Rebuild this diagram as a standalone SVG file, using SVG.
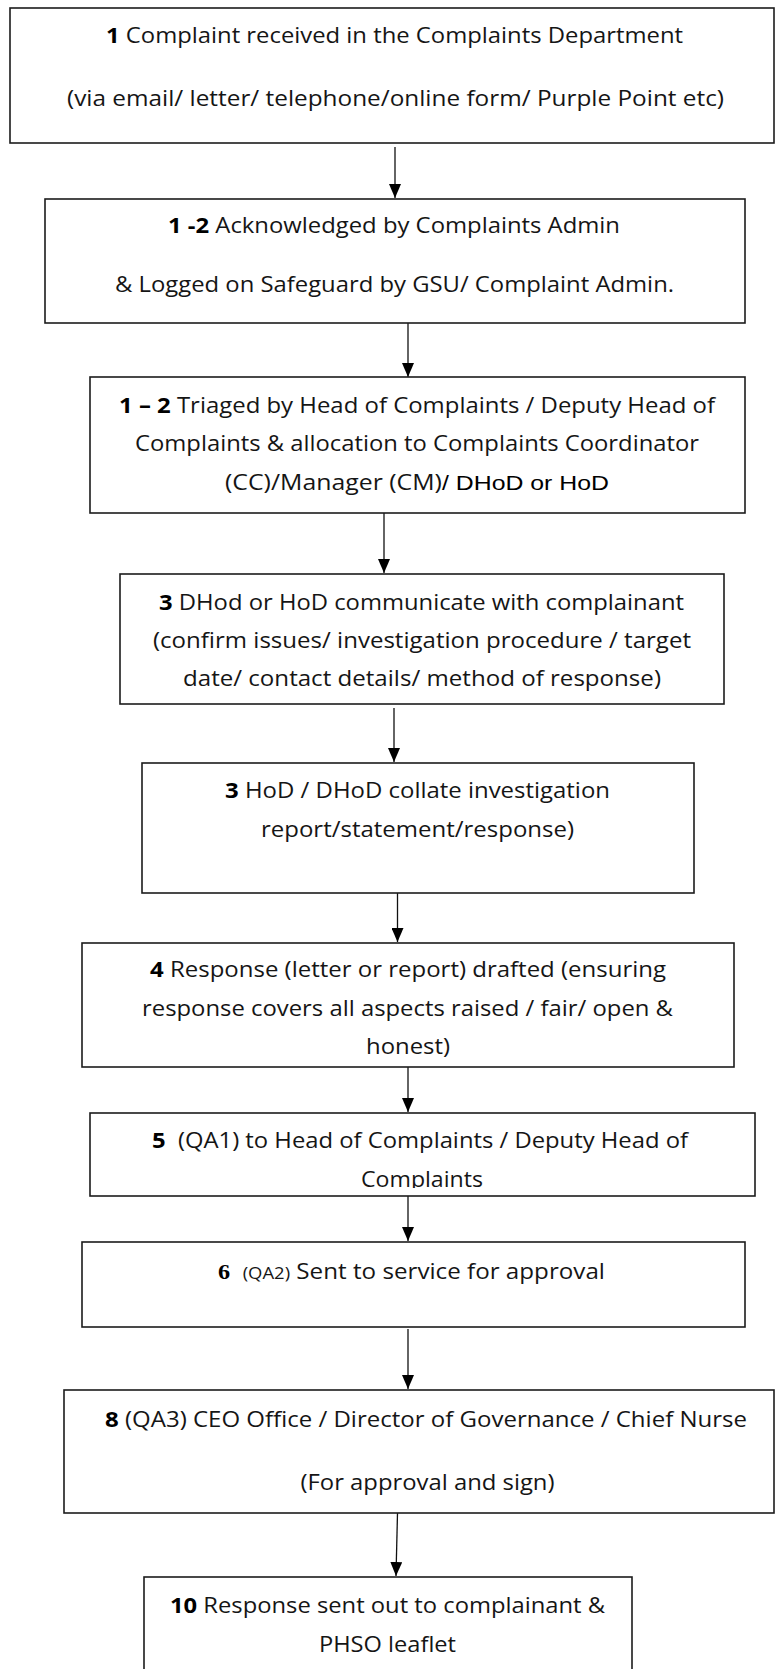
<svg xmlns="http://www.w3.org/2000/svg" width="775" height="1669" viewBox="0 0 775 1669">
<style>
.box{fill:#fff;stroke:#1c1c1c;stroke-width:1.6}
.t{font-family:"Open Sans","Liberation Sans",sans-serif;font-size:21px;fill:#151515;text-anchor:middle}
.b{font-weight:700;fill:#000}
.ar{font-family:"Liberation Sans",Arial,sans-serif;fill:#000}
.sm{font-size:16px}
.sb{font-family:"Liberation Serif",serif;font-weight:700;fill:#000}
.conn line{stroke:#111;stroke-width:1.3;marker-end:url(#ah)}
</style>
<defs>
<marker id="ah" markerUnits="userSpaceOnUse" markerWidth="14" markerHeight="12" refX="14" refY="6" orient="auto" viewBox="0 0 14 12"><path d="M0,0 L14,6 L0,12 z" fill="#000"/></marker>
<clipPath id="c7"><rect x="90" y="1113" width="665" height="75"/></clipPath>
</defs>
<rect width="775" height="1669" fill="#fff"/>
<g id="connectors" class="conn">
<line x1="395" y1="147" x2="395" y2="198"/>
<line x1="408" y1="323" x2="408" y2="377"/>
<line x1="384" y1="513" x2="384" y2="573"/>
<line x1="394" y1="708" x2="394" y2="762"/>
<line x1="397.5" y1="893" x2="397.5" y2="942"/>
<line x1="408" y1="1067" x2="408" y2="1112"/>
<line x1="408" y1="1196" x2="408" y2="1241"/>
<line x1="408" y1="1329" x2="408" y2="1389"/>
<line x1="397.5" y1="1513" x2="396" y2="1576"/>
</g>
<g id="n1">
<rect class="box" x="10" y="8" width="764" height="135"/>
<text class="t" x="394.5" y="43" textLength="577" lengthAdjust="spacingAndGlyphs"><tspan class="b">1</tspan> Complaint received in the Complaints Department</text>
<text class="t" x="395.5" y="106" textLength="657" lengthAdjust="spacingAndGlyphs">(via email/ letter/ telephone/online form/ Purple Point etc)</text>
</g>
<g id="n2">
<rect class="box" x="45" y="199" width="700" height="124"/>
<text class="t" x="394" y="233" textLength="452" lengthAdjust="spacingAndGlyphs"><tspan class="b">1 -2</tspan> Acknowledged by Complaints Admin</text>
<text class="t" x="394.5" y="292" textLength="559" lengthAdjust="spacingAndGlyphs">&amp; Logged on Safeguard by GSU/ Complaint Admin.</text>
</g>
<g id="n3">
<rect class="box" x="90" y="377" width="655" height="136"/>
<text class="t" x="417" y="413" textLength="596" lengthAdjust="spacingAndGlyphs"><tspan class="b">1 – 2</tspan> Triaged by Head of Complaints / Deputy Head of</text>
<text class="t" x="417" y="451" textLength="564" lengthAdjust="spacingAndGlyphs">Complaints &amp; allocation to Complaints Coordinator</text>
<text class="t" x="417" y="490" textLength="384" lengthAdjust="spacingAndGlyphs">(CC)/Manager (CM)<tspan class="ar">/ DHoD or HoD</tspan></text>
</g>
<g id="n4">
<rect class="box" x="120" y="574" width="604" height="130"/>
<text class="t" x="421.5" y="610" textLength="525" lengthAdjust="spacingAndGlyphs"><tspan class="b">3</tspan> DHod or HoD communicate with complainant</text>
<text class="t" x="422" y="648" textLength="538" lengthAdjust="spacingAndGlyphs">(confirm issues/ investigation procedure / target</text>
<text class="t" x="422" y="686" textLength="478" lengthAdjust="spacingAndGlyphs">date/ contact details/ method of response)</text>
</g>
<g id="n5">
<rect class="box" x="142" y="763" width="552" height="130"/>
<text class="t" x="417.5" y="798" textLength="385" lengthAdjust="spacingAndGlyphs"><tspan class="b">3</tspan> HoD / DHoD collate investigation</text>
<text class="t" x="417.5" y="837" textLength="313" lengthAdjust="spacingAndGlyphs">report/statement/response)</text>
</g>
<g id="n6">
<rect class="box" x="82" y="943" width="652" height="124"/>
<text class="t" x="408" y="977" textLength="516" lengthAdjust="spacingAndGlyphs"><tspan class="b">4</tspan> Response (letter or report) drafted (ensuring</text>
<text class="t" x="407.5" y="1016" textLength="531" lengthAdjust="spacingAndGlyphs">response covers all aspects raised / fair/ open &amp;</text>
<text class="t" x="408" y="1054" textLength="84" lengthAdjust="spacingAndGlyphs">honest)</text>
</g>
<g id="n7">
<rect class="box" x="90" y="1113" width="665" height="83"/>
<text class="t" x="420" y="1148" textLength="536" lengthAdjust="spacingAndGlyphs" xml:space="preserve"><tspan class="b">5</tspan>  (QA1) to Head of Complaints / Deputy Head of</text>
<text class="t" x="422" y="1187" textLength="122" lengthAdjust="spacingAndGlyphs" clip-path="url(#c7)">Complaints</text>
</g>
<g id="n8">
<rect class="box" x="82" y="1242" width="663" height="85"/>
<text class="t" x="411.5" y="1279" textLength="387" lengthAdjust="spacingAndGlyphs" xml:space="preserve"><tspan class="sb">6</tspan>  <tspan class="sm">(QA2)</tspan> Sent to service for approval</text>
</g>
<g id="n9">
<rect class="box" x="64" y="1390" width="710" height="123"/>
<text class="t" x="426" y="1427" textLength="642" lengthAdjust="spacingAndGlyphs"><tspan class="b">8</tspan> (QA3) CEO Office / Director of Governance / Chief Nurse</text>
<text class="t" x="427.5" y="1490" textLength="254" lengthAdjust="spacingAndGlyphs">(For approval and sign)</text>
</g>
<g id="n10">
<rect class="box" x="144" y="1577" width="488" height="120"/>
<text class="t" x="387.5" y="1613" textLength="435" lengthAdjust="spacingAndGlyphs"><tspan class="b">10</tspan> Response sent out to complainant &amp;</text>
<text class="t" x="387.5" y="1652" textLength="137" lengthAdjust="spacingAndGlyphs">PHSO leaflet</text>
</g>
</svg>
